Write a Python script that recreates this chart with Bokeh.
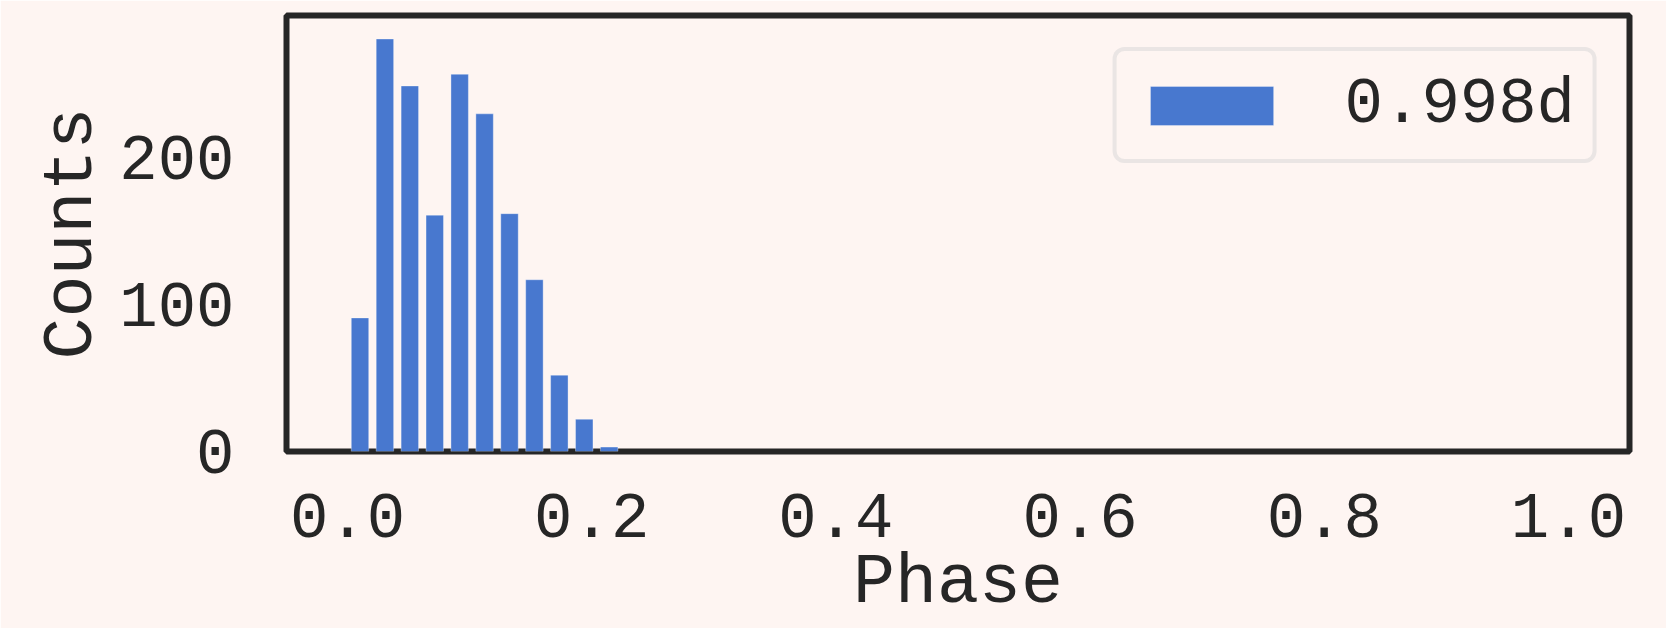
import numpy as np
from bokeh.plotting import figure
from bokeh.models import Range1d, FixedTicker, NumeralTickFormatter, Legend, LegendItem, ColumnDataSource
from bokeh.embed import file_html
from bokeh.resources import INLINE

# Phase histogram: 49 equal bins over [0, 1]
bin_edges = np.linspace(0.0, 1.0, 50)
counts = [91, 281, 249, 161, 257, 230, 162, 117, 52, 22, 3] + [0] * 38
period_label = "0.998d"
x_ticks = [0.0, 0.2, 0.4, 0.6, 0.8, 1.0]
y_ticks = [0, 100, 200]

BG = "#FEF5F2"
INK = "#262626"
BLUE = "#4878CF"
FONT = "Liberation Mono"

bin_w = bin_edges[1] - bin_edges[0]
centers = (bin_edges[:-1] + bin_edges[1:]) / 2
# only non-empty bins produce a visible bar
filled = [(c, n) for c, n in zip(centers, counts) if n > 0]
src = ColumnDataSource(dict(x=[c for c, _ in filled], top=[n for _, n in filled]))

p = figure(width=1666, height=628, output_backend="svg", toolbar_location=None,
           x_range=Range1d(-0.05, 1.05), y_range=Range1d(0, 297),
           min_border_left=286, min_border_right=37, min_border_top=15, min_border_bottom=177)
p.background_fill_color = BG
p.border_fill_color = BG
p.outline_line_color = INK
p.outline_line_width = 6
p.xgrid.visible = False
p.ygrid.visible = False

r = p.vbar(x="x", top="top", bottom=0, width=bin_w * 0.7, source=src,
           fill_color=BLUE, line_color="white", line_alpha=0.35, line_width=1)

for ax in (p.xaxis[0], p.yaxis[0]):
    ax.axis_line_color = None
    ax.major_tick_line_color = None
    ax.minor_tick_line_color = None
    ax.major_tick_out = 0
    ax.major_tick_in = 0
    ax.major_label_text_font = FONT
    ax.major_label_text_font_size = "64px"
    ax.major_label_text_color = INK
    ax.axis_label_text_font = FONT
    ax.axis_label_text_font_size = "70px"
    ax.axis_label_text_font_style = "normal"
    ax.axis_label_text_color = INK

p.xaxis.ticker = FixedTicker(ticks=x_ticks)
p.xaxis.formatter = NumeralTickFormatter(format="0.0")
p.xaxis.axis_label = "Phase"
p.xaxis.major_label_standoff = 42
p.xaxis.axis_label_standoff = 4

p.yaxis.ticker = FixedTicker(ticks=y_ticks)
p.yaxis.axis_label = "Counts"
p.yaxis.major_label_standoff = 52
p.yaxis.axis_label_standoff = 4

legend = Legend(items=[LegendItem(label=period_label, renderers=[r])], location="top_right")
legend.margin = 32
legend.padding = 18
legend.glyph_width = 154
legend.glyph_height = 49
legend.label_standoff = 56
legend.label_text_font = FONT
legend.label_text_font_size = "64px"
legend.label_text_color = INK
legend.background_fill_color = BG
legend.background_fill_alpha = 1.0
legend.border_line_color = "#D6D6D6"
legend.border_line_width = 4
if "border_radius" in legend.properties():
    legend.border_radius = 12
p.add_layout(legend, "center")

open("out.html", "w").write(file_html(p, INLINE))
